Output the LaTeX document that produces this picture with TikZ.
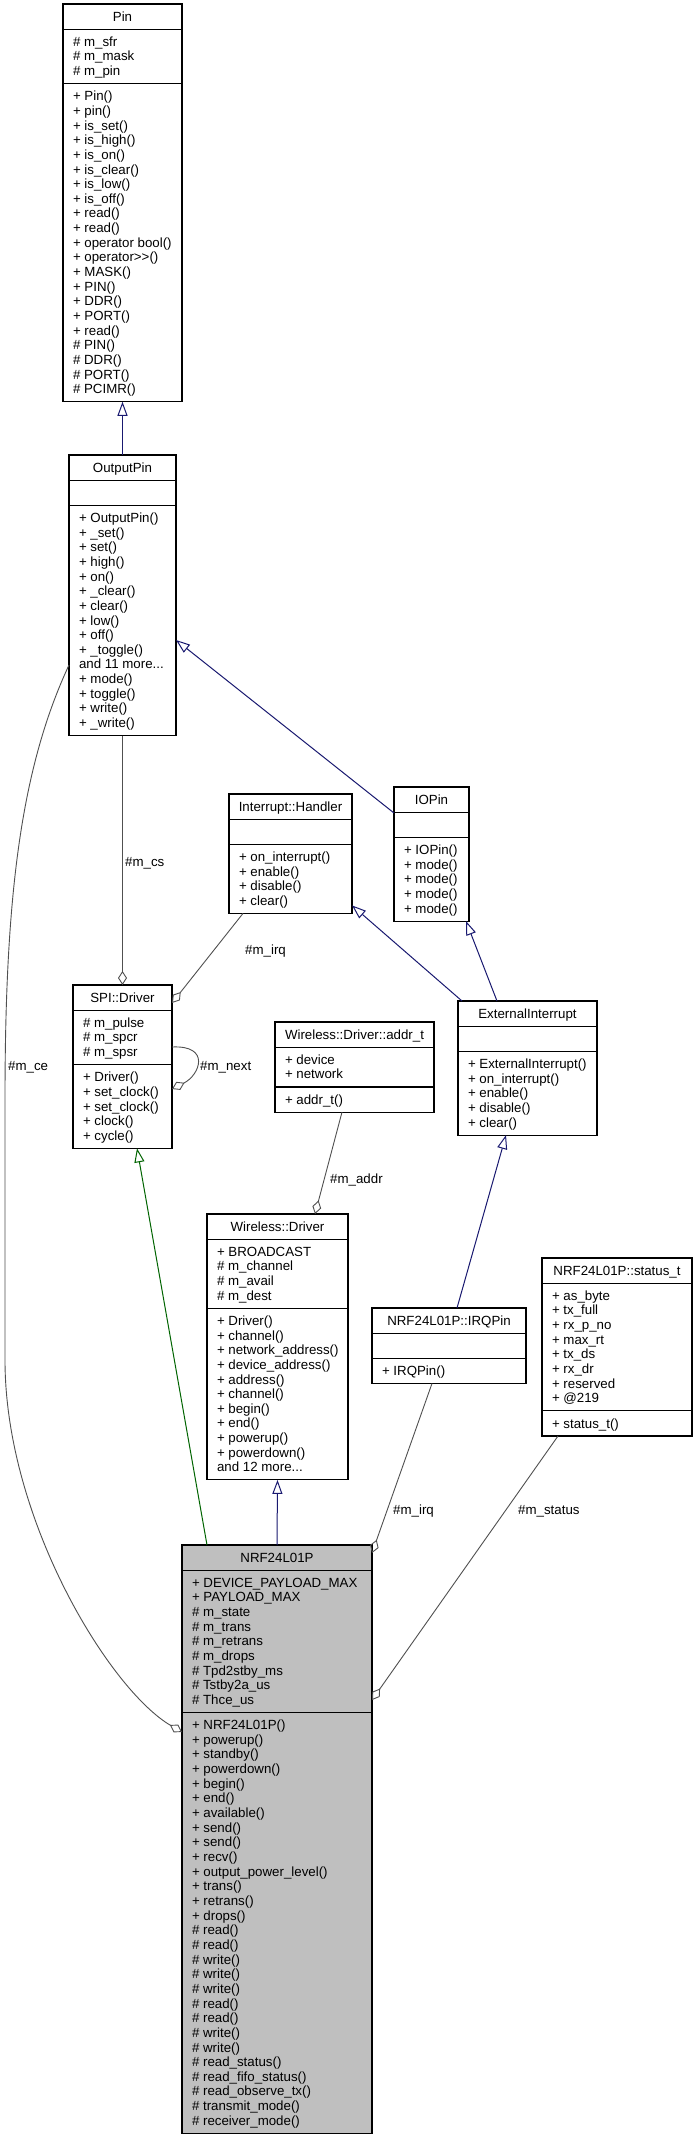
\documentclass[tikz,border=0pt]{standalone}
\usepackage{fontspec}
\setmainfont{Liberation Sans}
\usetikzlibrary{arrows.meta,calc}
\definecolor{navyc}{HTML}{191970}
\definecolor{greenc}{HTML}{006400}
\definecolor{edgec}{HTML}{505050}
\definecolor{mainfill}{HTML}{BFBFBF}
\def\umlL{14.65}
\def\umlP{10.5}
\def\umlB{4.6}
\def\umlX{10}
\newcommand\mydots{.{}.{}.}
\tikzset{
  umlframe/.style={draw=black, line width=1.1pt, inner sep=0pt, outer sep=0pt},
  umlsep/.style={draw=black, line width=1.1pt},
  umltext/.style={font=\fontsize{13.3}{14.65}\selectfont, inner sep=0pt, outer sep=0pt},
  inhblue/.style={draw=navyc, line width=1pt, -{Triangle[open, length=14pt, width=10pt, line width=1pt]}},
  inhgreen/.style={draw=greenc, line width=1pt, -{Triangle[open, length=14pt, width=10pt, line width=1pt]}},
  collab/.style={draw=edgec, line width=0.9pt, -{Diamond[open, length=14pt, width=9pt, line width=0.9pt]}},
  elabel/.style={font=\fontsize{13.3}{14.65}\selectfont, inner sep=0pt, anchor=west},
}
% #1 name #2 x #3 ytop #4 width #5 fill #6 title #7 attrs #8 methods
\newcommand\umlbox[8]{%
  \foreach \t [count=\i] in {#7} {\xdef\umlnA{\i}}%
  \foreach \t [count=\i] in {#8} {\xdef\umlnM{\i}}%
  \pgfmathsetmacro\umlyA{#3+\umlL+\umlP}%
  \pgfmathsetmacro\umlyM{\umlyA+\umlnA*\umlL+\umlP}%
  \pgfmathsetmacro\umlH{\umlyM+\umlnM*\umlL+\umlP-#3}%
  \node[umlframe, fill=#5, minimum width=#4pt, minimum height=\umlH pt, anchor=north west] (#1) at (#2,#3) {};
  \draw[umlsep] (#2,\umlyA) -- ++(#4,0);
  \draw[umlsep] (#2,\umlyM) -- ++(#4,0);
  \node[umltext, anchor=base] (#1-t) at ({#2+#4/2},{#3+\umlP/2+\umlL/2+\umlB}) {#6};
  \foreach \t [count=\i] in {#7} {\node[umltext, anchor=base west] (#1-a\i) at ({#2+\umlX},{\umlyA+\umlP/2+\i*\umlL-\umlL/2+\umlB}) {\t};}%
  \foreach \t [count=\i] in {#8} {\node[umltext, anchor=base west] (#1-m\i) at ({#2+\umlX},{\umlyM+\umlP/2+\i*\umlL-\umlL/2+\umlB}) {\t};}%
}
\begin{document}
\begin{tikzpicture}[x=1pt,y=-1pt]
\useasboundingbox[fill=white] (0,0) rectangle (697,2140);

\umlbox{pin}{63}{4}{119}{white}{Pin}
 {{\# m\_sfr},{\# m\_mask},{\# m\_pin}}
 {{+ Pin()},{+ pin()},{+ is\_set()},{+ is\_high()},{+ is\_on()},{+ is\_clear()},{+ is\_low()},{+ is\_off()},{+ read()},{+ read()},{+ operator bool()},{+ operator>{}>()},{+ MASK()},{+ PIN()},{+ DDR()},{+ PORT()},{+ read()},{\# PIN()},{\# DDR()},{\# PORT()},{\# PCIMR()}}

\umlbox{outputpin}{69}{455}{107}{white}{OutputPin}
 {{}}
 {{+ OutputPin()},{+ \_set()},{+ set()},{+ high()},{+ on()},{+ \_clear()},{+ clear()},{+ low()},{+ off()},{+ \_toggle()},{and 11 more\mydots},{+ mode()},{+ toggle()},{+ write()},{+ \_write()}}

\umlbox{handler}{229}{794}{123}{white}{Interrupt::Handler}
 {{}}
 {{+ on\_interrupt()},{+ enable()},{+ disable()},{+ clear()}}

\umlbox{iopin}{394}{787}{75}{white}{IOPin}
 {{}}
 {{+ IOPin()},{+ mode()},{+ mode()},{+ mode()},{+ mode()}}

\umlbox{spi}{73}{985}{99}{white}{SPI::Driver}
 {{\# m\_pulse},{\# m\_spcr},{\# m\_spsr}}
 {{+ Driver()},{+ set\_clock()},{+ set\_clock()},{+ clock()},{+ cycle()}}

\umlbox{addrt}{275}{1022}{159}{white}{Wireless::Driver::addr\_t}
 {{+ device},{+ network}}
 {{+ addr\_t()}}

\umlbox{extint}{458}{1001}{139}{white}{ExternalInterrupt}
 {{}}
 {{+ ExternalInterrupt()},{+ on\_interrupt()},{+ enable()},{+ disable()},{+ clear()}}

\umlbox{wireless}{207}{1214}{141}{white}{Wireless::Driver}
 {{+ BROADCAST},{\# m\_channel},{\# m\_avail},{\# m\_dest}}
 {{+ Driver()},{+ channel()},{+ network\_address()},{+ device\_address()},{+ address()},{+ channel()},{+ begin()},{+ end()},{+ powerup()},{+ powerdown()},{and 12 more\mydots}}

\umlbox{irqpin}{372}{1308}{154}{white}{NRF24L01P::IRQPin}
 {{}}
 {{+ IRQPin()}}

\umlbox{status}{542}{1258}{150}{white}{NRF24L01P::status\_t}
 {{+ as\_byte},{+ tx\_full},{+ rx\_p\_no},{+ max\_rt},{+ tx\_ds},{+ rx\_dr},{+ reserved},{+ @219}}
 {{+ status\_t()}}

\umlbox{nrf}{182}{1545}{190}{mainfill}{NRF24L01P}
 {{+ DEVICE\_PAYLOAD\_MAX},{+ PAYLOAD\_MAX},{\# m\_state},{\# m\_trans},{\# m\_retrans},{\# m\_drops},{\# Tpd2stby\_ms},{\# Tstby2a\_us},{\# Thce\_us}}
 {{+ NRF24L01P()},{+ powerup()},{+ standby()},{+ powerdown()},{+ begin()},{+ end()},{+ available()},{+ send()},{+ send()},{+ recv()},{+ output\_power\_level()},{+ trans()},{+ retrans()},{+ drops()},{\# read()},{\# read()},{\# write()},{\# write()},{\# write()},{\# read()},{\# read()},{\# write()},{\# write()},{\# read\_status()},{\# read\_fifo\_status()},{\# read\_observe\_tx()},{\# transmit\_mode()},{\# receiver\_mode()}}

% inheritance
\draw[inhblue] (outputpin.north) -- (pin.south);
\draw[inhblue] ([yshift=-26pt]iopin.north west) -- ([yshift=-185pt]outputpin.north east);
\draw[inhblue] ([xshift=4pt]extint.north west) -- ([yshift=8pt]handler.south east);
\draw[inhblue] ([xshift=39pt]extint.north west) -- ([xshift=-3pt]iopin.south east);
\draw[inhgreen] ([xshift=25pt]nrf.north west) -- ([xshift=64pt]spi.south west);
\draw[inhblue] (nrf.north) -- (wireless.south);
\draw[inhblue] ([xshift=85pt]irqpin.north west) -- ([xshift=48pt]extint.south west);

% collaboration
\draw[collab] (outputpin.south) -- (spi.north);
\draw[collab] ([xshift=14pt]handler.south west) -- ([yshift=-18pt]spi.north east);
\draw[collab] ([yshift=-62pt]spi.north east) .. controls ([xshift=39pt,yshift=-60pt]spi.north east) and ([xshift=28pt,yshift=-90pt]spi.north east) .. ([yshift=-104pt]spi.north east);
\draw[collab] ([xshift=67pt]addrt.south west) -- ([xshift=108pt]wireless.north west);
\draw[collab] ([xshift=60pt]irqpin.south west) -- ([yshift=-8pt]nrf.north east);
\draw[collab] ([xshift=16pt]status.south west) -- ([yshift=-155pt]nrf.north east);
\coordinate (ce1) at (5,1100);
\coordinate (ce2) at (5,1360);
\draw[collab] ([yshift=-210pt]outputpin.north west) .. controls (20,770) and (5,900) .. (ce1) -- (ce2) .. controls (5,1520) and (110,1690) .. ([yshift=-187pt]nrf.north west);

% labels
\node[elabel] (lcs) at (125,863) {\#m\_cs};
\node[elabel] (lirq1) at (245,951) {\#m\_irq};
\node[elabel] (lnext) at (200,1067) {\#m\_next};
\node[elabel] (laddr) at (330,1180) {\#m\_addr};
\node[elabel] (lce) at (8,1067) {\#m\_ce};
\node[elabel] (lirq2) at (393,1511) {\#m\_irq};
\node[elabel] (lstatus) at (518,1511) {\#m\_status};
\end{tikzpicture}
\end{document}
